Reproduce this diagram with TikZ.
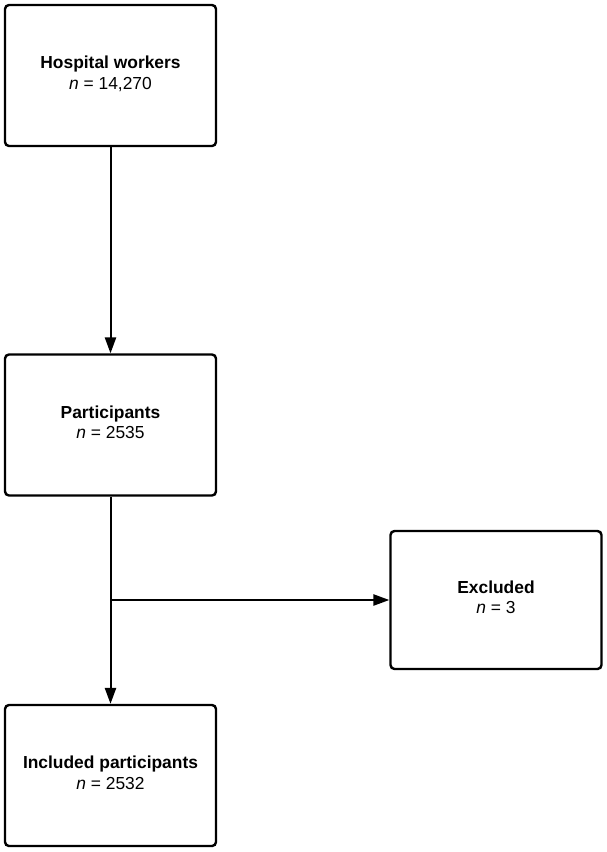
\documentclass[tikz,border=0pt]{standalone}
\usepackage{fontspec}
\setmainfont{Liberation Sans}
\usetikzlibrary{positioning,arrows.meta}
\tikzset{
  pbox/.style  = {draw, line width=1.2pt, rounded corners=2pt, fill=white,
                  minimum width=105.5pt, minimum height=70.5pt, inner sep=2pt,
                  text depth=3pt, align=center,
                  font=\fontsize{8.7}{10.2}\selectfont},
  flow/.style  = {line width=1pt, -{Triangle[length=8pt,width=5.6pt]}},
}

\begin{document}
\begin{tikzpicture}[x=0.5pt,y=-0.5pt]
  \useasboundingbox (0,0) rectangle (606,852);
  \node[pbox] (hosp) at (110.5,75.5) {\textbf{Hospital workers}\\\textit{n} = 14,270};
  \node[pbox] (part) at (110.5,425) {\textbf{Participants}\\\textit{n} = 2535};
  \node[pbox, minimum height=69pt] (excl) at (496,600) {\textbf{Excluded}\\\textit{n} = 3};
  \node[pbox] (incl) at (110.5,775.5) {\textbf{Included participants}\\\textit{n} = 2532};
  \coordinate (split) at (part.south |- excl.west);
  \draw[flow] (hosp) -- (part);
  \draw[flow] (part) -- (incl);
  \draw[flow] (split) -- (excl);
\end{tikzpicture}
\end{document}
